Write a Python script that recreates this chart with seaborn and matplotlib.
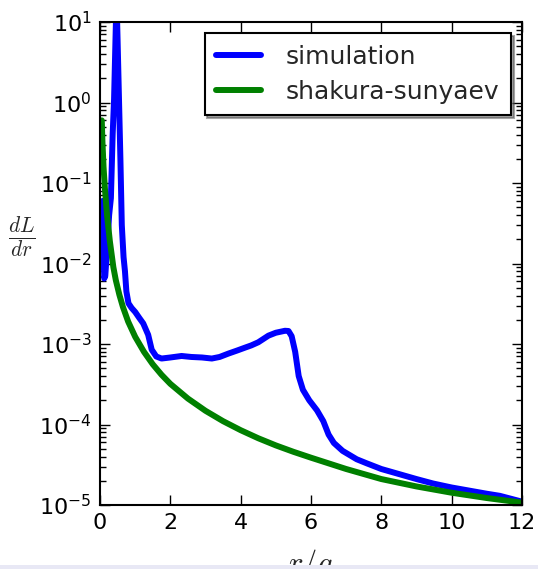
import numpy as np
import pandas as pd
import matplotlib
matplotlib.use("Agg")
import matplotlib.pyplot as plt
import seaborn as sns
from matplotlib.patches import Rectangle

# ---- data ----
sim_r = [0.08, 0.10, 0.12, 0.15, 0.20, 0.26, 0.31, 0.36, 0.40, 0.44, 0.47, 0.50,
         0.54, 0.58, 0.62, 0.67, 0.71, 0.75, 0.81, 0.90, 1.00, 1.12, 1.23, 1.37, 1.47,
         1.60, 1.75, 2.00, 2.32, 2.60, 2.90, 3.18, 3.40, 3.65, 3.90, 4.12, 4.30, 4.50,
         4.79, 5.00, 5.26, 5.36, 5.45, 5.55, 5.65, 5.77, 5.95, 6.17, 6.35, 6.50,
         6.65, 6.90, 7.30, 7.58, 8.00, 9.00, 9.47, 10.0, 11.0, 11.37, 12.0]
sim_dL = [0.06, 0.015, 6.5e-3, 7e-3, 0.015, 0.04, 0.065, 0.4, 1.1, 6.0, 20.0, 6.0,
          1.1, 0.2, 0.03, 0.012, 8e-3, 4.5e-3, 3.2e-3, 2.8e-3, 2.5e-3, 2.1e-3, 1.8e-3, 1.3e-3, 8.5e-4,
          7e-4, 6.6e-4, 6.8e-4, 7.1e-4, 6.9e-4, 6.8e-4, 6.6e-4, 6.9e-4, 7.6e-4, 8.3e-4, 9.0e-4, 9.6e-4, 1.05e-3,
          1.27e-3, 1.38e-3, 1.46e-3, 1.45e-3, 1.25e-3, 8e-4, 4e-4, 2.7e-4, 2.0e-4, 1.5e-4, 1.1e-4, 7.5e-5,
          5.9e-5, 4.7e-5, 3.7e-5, 3.3e-5, 2.8e-5, 2.1e-5, 1.85e-5, 1.65e-5, 1.38e-5, 1.3e-5, 1.1e-5]

ss_r = [0.05, 0.07, 0.10, 0.14, 0.20, 0.28, 0.38, 0.45, 0.55, 0.65, 0.80, 1.00,
        1.25, 1.50, 1.75, 2.00, 2.50, 3.00, 3.50, 4.00, 4.50, 5.00, 5.50, 6.00,
        7.00, 8.00, 9.00, 10.0, 11.0, 12.0]
ss_dL = [0.6, 0.32, 0.16, 0.085, 0.04, 0.019, 9e-3, 6.2e-3, 4.1e-3, 2.9e-3, 1.9e-3, 1.23e-3,
         8.0e-4, 5.6e-4, 4.15e-4, 3.2e-4, 2.1e-4, 1.48e-4, 1.1e-4, 8.5e-5, 6.75e-5, 5.5e-5, 4.58e-5, 3.87e-5,
         2.8e-5, 2.1e-5, 1.7e-5, 1.42e-5, 1.22e-5, 1.07e-5]

labels = ["simulation", "shakura-sunyaev"]
colors = ["#0000ff", "#008000"]

df = pd.concat([
    pd.DataFrame({"r": sim_r, "dL": sim_dL, "model": labels[0]}),
    pd.DataFrame({"r": ss_r, "dL": ss_dL, "model": labels[1]}),
])

sns.set_style("ticks")
plt.rcParams['font.family'] = ['DejaVu Sans']
plt.rcParams['axes.unicode_minus'] = False

fig = plt.figure(figsize=(5.38, 5.69), dpi=100)
ax = fig.add_axes([100/538, 1-505/569, 422/538, 483/569])

sns.lineplot(data=df, x="r", y="dL", hue="model", palette=colors,
             linewidth=4.3, ax=ax, sort=False, estimator=None)

ax.set_yscale("log")
ax.set_xlim(0, 12)
ax.set_ylim(1e-5, 1e1)
ax.set_xticks([0, 2, 4, 6, 8, 10, 12])

ax.tick_params(which="both", direction="in", top=True, right=True,
               labelsize=16, colors="black", pad=6)
ax.tick_params(which="major", length=7, width=1)
ax.tick_params(which="minor", length=4, width=1)
for s in ax.spines.values():
    s.set_linewidth(1.5)
    s.set_color("black")

ax.set_xlabel(r"$r/a$", fontsize=22, labelpad=10, math_fontfamily="cm")
ax.set_ylabel(r"$\frac{dL}{dr}$", fontsize=22, rotation=0,
              va="center", ha="center", math_fontfamily="cm")
ax.yaxis.set_label_coords(-0.185, 0.555)

leg = ax.legend(loc="upper right", fontsize=18, frameon=True, fancybox=False,
                shadow=True, handlelength=1.8, borderaxespad=0.45,
                borderpad=0.45, labelspacing=0.45, handletextpad=1.0)
leg.get_frame().set_edgecolor("black")
leg.get_frame().set_linewidth(1.5)
leg.get_frame().set_alpha(1)

fig.patches.append(Rectangle((0, 0), 1, 4/569, transform=fig.transFigure,
                             facecolor="#e8e8f5", edgecolor="none", zorder=10))

fig.savefig("out.png", dpi=100)
